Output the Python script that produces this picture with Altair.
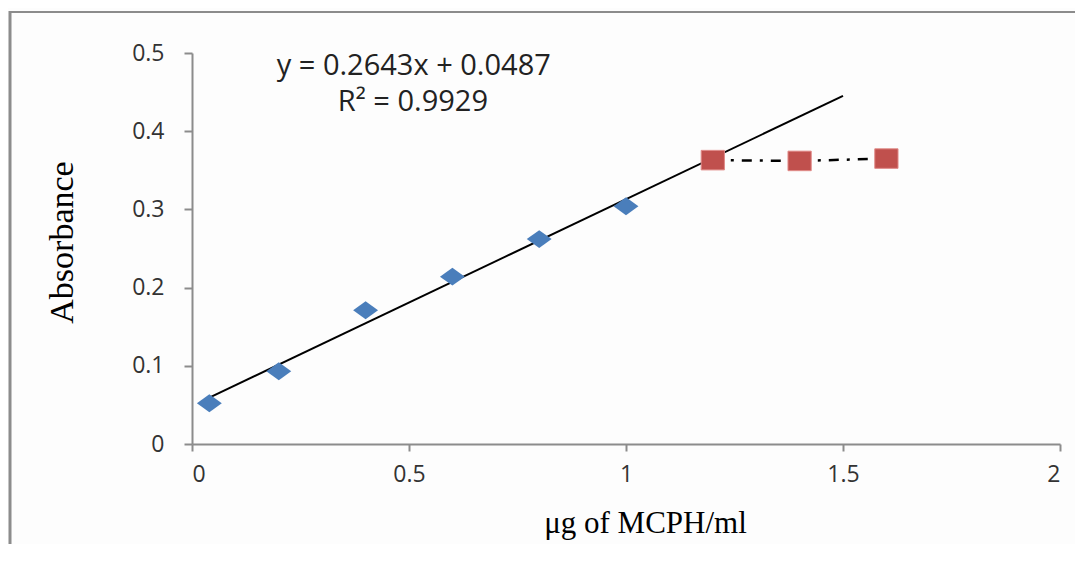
import altair as alt
import pandas as pd

# measured (blue diamonds) and saturated (red squares) points
x_lin = [0.04, 0.2, 0.4, 0.6, 0.8, 1.0]
y_lin = [0.052, 0.093, 0.171, 0.214, 0.262, 0.304]
x_sat = [1.2, 1.4, 1.6]
y_sat = [0.363, 0.362, 0.365]
# trend line from the displayed equation
slope = 0.2643
intercept = 0.0487
trend_x = [0.04, 1.5]
eq_text = "y = 0.2643x + 0.0487"
r2_text = "R² = 0.9929"
x_ticks = [0, 0.5, 1, 1.5, 2]
y_ticks = [0, 0.1, 0.2, 0.3, 0.4, 0.5]

lin = pd.DataFrame({"x": x_lin, "y": y_lin})
sat = pd.DataFrame({"x": x_sat, "y": y_sat})
trend = pd.DataFrame({"x": trend_x, "y": [slope * v + intercept for v in trend_x]})

W, H = 868, 391
xs = alt.Scale(domain=[0, 2], nice=False, zero=False)
ys = alt.Scale(domain=[0, 0.5], nice=False)

axis_common = dict(grid=False, domainColor="#8c8c8c", domainWidth=2, tickColor="#8c8c8c",
                   tickWidth=2, labelFont="Open Sans", labelFontSize=23, labelColor="#333333",
                   format="~g",
                   titleFont="Liberation Serif", titleFontWeight="normal", titleColor="#000000")

x_axis = alt.Axis(values=x_ticks, tickSize=7, labelPadding=12, title="μg of MCPH/ml",
                  titleFontSize=31, titleX=453, titleY=79, titleAlign="center",
                  titleBaseline="middle", **axis_common)
y_axis = alt.Axis(values=y_ticks, tickSize=8, labelPadding=20, title="Absorbance",
                  titleFontSize=34, titleX=-130, titleY=189, titleAlign="center",
                  titleBaseline="middle", titleAngle=-90, **axis_common)

trend_line = alt.Chart(trend).mark_line(color="#000000", strokeWidth=2).encode(
    x=alt.X("x:Q", scale=xs, axis=x_axis), y=alt.Y("y:Q", scale=ys, axis=y_axis))

sat_line = alt.Chart(sat).mark_line(color="#000000", strokeWidth=2.5, strokeDash=[10, 8, 3, 8]).encode(
    x=alt.X("x:Q", scale=xs), y=alt.Y("y:Q", scale=ys))

diamonds = alt.Chart(lin).mark_point(shape="M-1,0L0,-0.72L1,0L0,0.72Z", size=620, filled=True,
                                     color="#4a7ebb", opacity=1).encode(
    x=alt.X("x:Q", scale=xs), y=alt.Y("y:Q", scale=ys))

squares = alt.Chart(sat).mark_point(shape="M-1,-0.84H1V0.84H-1Z", size=540, filled=True,
                                    fill="#c0504d", stroke="#e08a88", strokeWidth=1, opacity=1).encode(
    x=alt.X("x:Q", scale=xs), y=alt.Y("y:Q", scale=ys))

eq = alt.Chart(pd.DataFrame({"t": [eq_text]})).mark_text(
    font="Open Sans", fontSize=29, color="#222222", align="center", baseline="middle").encode(
    x=alt.datum(0.511, scale=xs), y=alt.datum(0.483, scale=ys), text="t:N")
r2 = alt.Chart(pd.DataFrame({"t": [r2_text]})).mark_text(
    font="Open Sans", fontSize=29, color="#222222", align="center", baseline="middle").encode(
    x=alt.datum(0.509, scale=xs), y=alt.datum(0.437, scale=ys), text="t:N")

frame_top = alt.Chart(pd.DataFrame({"a": [0]})).mark_rule(color="#8c8c8c", strokeWidth=2).encode(
    x=alt.value(-183), x2=alt.value(900), y=alt.value(-41))
frame_left = alt.Chart(pd.DataFrame({"a": [0]})).mark_rule(color="#8c8c8c", strokeWidth=3).encode(
    x=alt.value(-182), y=alt.value(-42), y2=alt.value(520))

chart = alt.layer(frame_top, frame_left, trend_line, sat_line, diamonds, squares, eq, r2).properties(
    width=W, height=H,
    autosize=alt.AutoSizeParams(type="none"),
    padding={"left": 184, "top": 45, "right": 15, "bottom": 100},
    background="#fdfdfd",
).configure_view(stroke=None)

chart.save("out.html", embed_options={"renderer": "svg", "actions": False})
